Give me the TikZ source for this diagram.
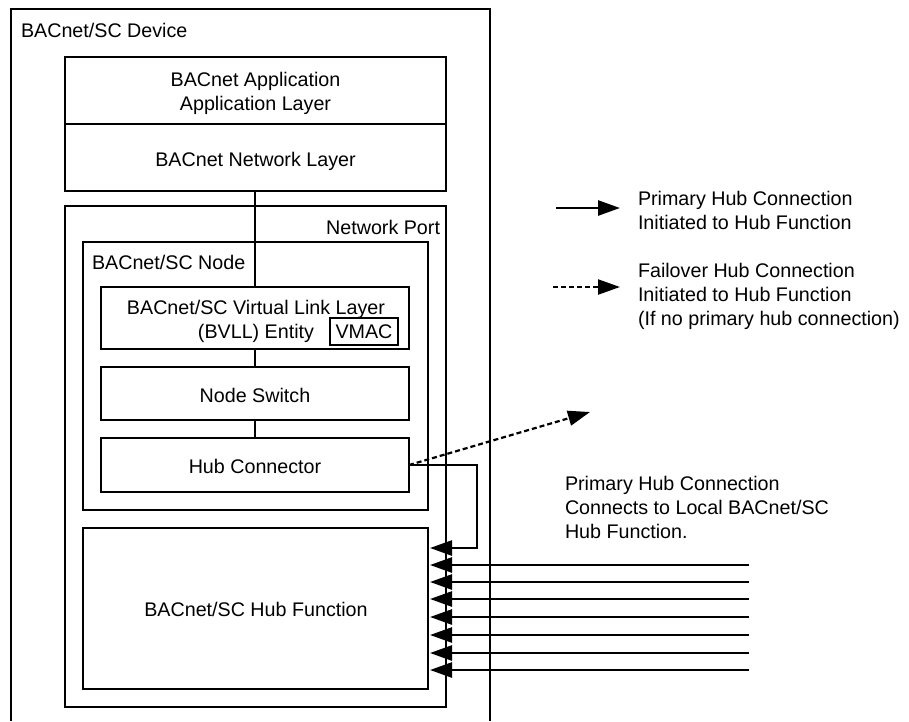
\documentclass[tikz,border=0pt]{standalone}
\usepackage{fontspec}
\setmainfont{Liberation Sans}
\usetikzlibrary{arrows.meta,calc}

\begin{document}
\begin{tikzpicture}[x=1pt,y=-1pt,
  every node/.style={inner sep=0pt, outer sep=0pt},
  txt/.style={font=\fontsize{19.7}{24}\selectfont, align=left},
  ctxt/.style={font=\fontsize{19.7}{24}\selectfont, align=center},
  frame/.style={draw, line width=1.4pt},
  box/.style={frame, anchor=north west},
  link/.style={line width=2.8pt},
  hubarrow/.style={line width=2.6pt, -{Triangle[length=22pt,width=15pt]}},
  failover/.style={line width=2.2pt, dash pattern=on 5pt off 3pt, -{Triangle[length=22pt,width=15pt]}},
]
\useasboundingbox (0,0) rectangle (909,721);

% device outline (open at the bottom)
\draw[frame] (11,721) -- (11,9) -- (490,9) -- (490,721);
\node[txt, anchor=north west] (devT) at (21,23) {BACnet/SC Device};

% application and network layers
\node[box, minimum width=381pt, minimum height=67pt] (app) at (65,57) {};
\node[box, minimum width=381pt, minimum height=67pt] (netl) at (65,124) {};
\node[ctxt, anchor=north] (appT) at (255.5,72) {BACnet Application\\Application Layer};
\node[ctxt, anchor=north] (netT) at (255.5,152) {BACnet Network Layer};

% network port
\node[box, minimum width=381pt, minimum height=501pt] (port) at (65,206) {};
\node[txt, anchor=north east] (portT) at (440,220) {Network Port};

% BACnet/SC node
\node[box, minimum width=345pt, minimum height=268pt] (scnode) at (83,242) {};
\node[txt, anchor=north west] (scnodeT) at (92,255) {BACnet/SC Node};

\node[box, minimum width=308pt, minimum height=62pt] (vll) at (101,287) {};
\node[ctxt, anchor=north] (vllT) at (256,300) {BACnet/SC Virtual Link Layer\\(BVLL) Entity};
\node[frame, minimum width=68pt, minimum height=27pt, font=\fontsize{19.7}{24}\selectfont] (vmac) at (364,331.5) {VMAC};

\node[box, minimum width=308pt, minimum height=53pt] (sw) at (101,367) {};
\node[ctxt, anchor=north] (swT) at (255,388) {Node Switch};

\node[box, minimum width=308pt, minimum height=54pt] (hc) at (101,438) {};
\node[ctxt, anchor=north] (hcT) at (255,459) {Hub Connector};

% hub function
\node[box, minimum width=345pt, minimum height=161pt] (hub) at (83,528) {};
\node[ctxt, anchor=north] (hubT) at (256,602) {BACnet/SC Hub Function};

% vertical links through the stack
\draw[link] (netl.south -| vll.north) -- (vll.north);
\draw[link] (vll) -- (sw);
\draw[link] (sw) -- (hc);

% failover connection out of the device
\coordinate (fo) at (590,412);
\draw[failover] (hc.east) -- (fo);

% local primary connection into the hub function
\coordinate (corner) at (477,465);
\coordinate (hin0) at ($(hub.east |- 0,548)+(2,0)$);
\draw[hubarrow] (hc.east) -- (corner) |- (hin0);

% remote primary connections
\foreach \i/\y in {1/565,2/582,3/599,4/617,5/635,6/653,7/670} {
  \coordinate (src\i) at (749,\y);
  \coordinate (hin\i) at ($(hub.east |- src\i)+(2,0)$);
  \draw[hubarrow] (src\i) -- (hin\i);
}

\node[txt, anchor=north west] (noteT) at (565,476) {Primary Hub Connection\\Connects to Local BACnet/SC\\Hub Function.};

% legend
\coordinate (l1a) at (556,208);
\coordinate (l1b) at (620,208);
\draw[hubarrow] (l1a) -- (l1b);
\node[txt, anchor=north west] (l1T) at (638,191) {Primary Hub Connection\\Initiated to Hub Function};

\coordinate (l2a) at (553,287);
\coordinate (l2b) at (620,287);
\draw[failover] (l2a) -- (l2b);
\node[txt, anchor=north west] (l2T) at (638,263) {Failover Hub Connection\\Initiated to Hub Function\\(If no primary hub connection)};
\end{tikzpicture}
\end{document}
